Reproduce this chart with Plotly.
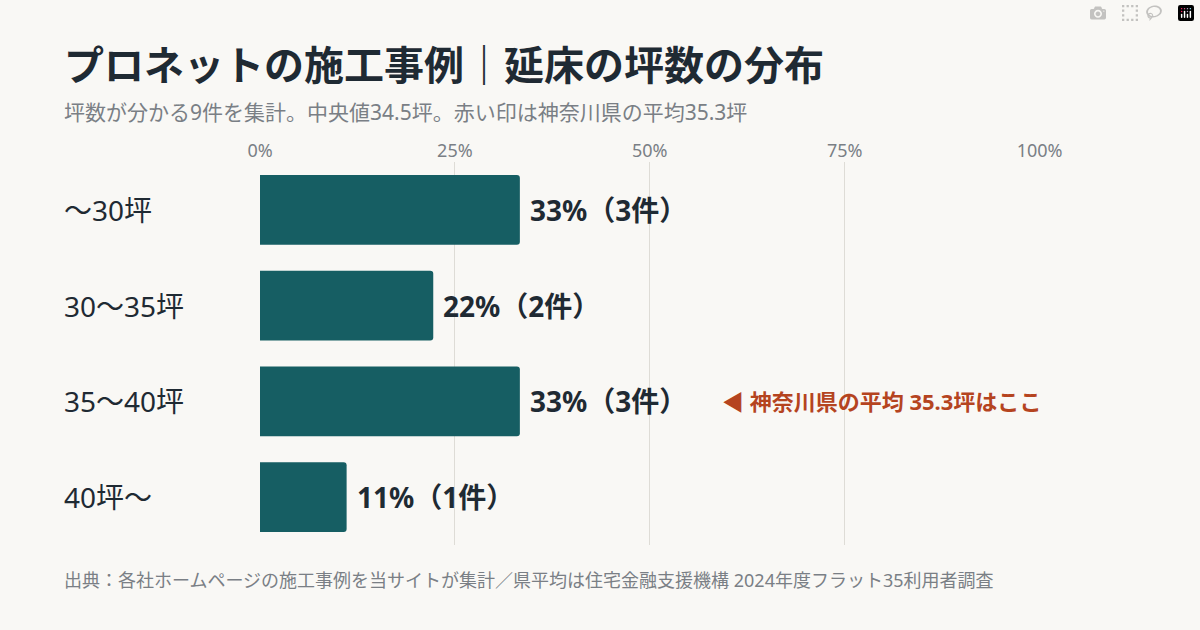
import plotly.graph_objects as go

# データ
categories = ["〜30坪", "30〜35坪", "35〜40坪", "40坪〜"]
counts = [3, 2, 3, 1]
total = 9
tick_vals = [0, 25, 50, 75, 100]
tick_text = ["0%", "25%", "50%", "75%", "100%"]

pct = [c / total * 100 for c in counts]
FONT = "Noto Sans, Noto Sans CJK JP"
BAR = "#165e63"
RED = "#b5441f"
BG = "#f9f8f5"
LEFT = -198 / 780  # 左端 x=62px

fig = go.Figure(go.Bar(
    x=pct, y=categories, orientation="h",
    marker=dict(color=BAR, cornerradius=3, line=dict(width=0)),
    hoverinfo="skip",
))

for cat, p, c in zip(categories, pct, counts):
    fig.add_annotation(x=p, y=cat, xref="x", yref="y", xanchor="left", xshift=8,
                       text=f"<b>{round(p)}%（{c}件）</b>", showarrow=False,
                       font=dict(size=28, color="#1f2a33", family=FONT))
    fig.add_annotation(x=LEFT, y=cat, xref="paper", yref="y", xanchor="left",
                       text=cat, showarrow=False,
                       font=dict(size=28, color="#1f2a33", family=FONT))

fig.add_annotation(x=59, y=categories[2], xref="x", yref="y", xanchor="left",
                   text="<b>◀ 神奈川県の平均 35.3坪はここ</b>", showarrow=False,
                   font=dict(size=22, color=RED, family=FONT))

fig.update_layout(
    width=1200, height=630,
    paper_bgcolor=BG, plot_bgcolor=BG,
    margin=dict(l=260, r=160, t=162, b=85),
    bargap=0.27, showlegend=False,
    font=dict(family=FONT),
    xaxis=dict(range=[0, 100.05], side="top", tickvals=tick_vals, ticktext=tick_text,
               showgrid=True, gridcolor="#dedcd6", gridwidth=1, zeroline=False,
               tickfont=dict(size=18, color="#7a7f85"), ticks="", fixedrange=True),
    yaxis=dict(autorange="reversed", showticklabels=False, showgrid=False,
               zeroline=False, fixedrange=True),
)

# タイトル・サブタイトル・出典
fig.add_annotation(x=LEFT, y=1 + (162 - 65) / 383, xref="paper", yref="paper",
                   xanchor="left", yanchor="middle", showarrow=False,
                   text="<b>プロネットの施工事例｜延床の坪数の分布</b>",
                   font=dict(size=40, color="#1f2a33", family=FONT))
fig.add_annotation(x=LEFT, y=1 + (162 - 112) / 383, xref="paper", yref="paper",
                   xanchor="left", yanchor="middle", showarrow=False,
                   text="坪数が分かる9件を集計。中央値34.5坪。赤い印は神奈川県の平均35.3坪",
                   font=dict(size=21, color="#7a7f85", family=FONT))
fig.add_annotation(x=LEFT, y=-(580 - 545) / 383, xref="paper", yref="paper",
                   xanchor="left", yanchor="middle", showarrow=False,
                   text="出典：各社ホームページの施工事例を当サイトが集計／県平均は住宅金融支援機構 2024年度フラット35利用者調査",
                   font=dict(size=18, color="#7a7f85", family=FONT))

fig.write_html("out.html", post_script="document.body.style.margin='0';")
